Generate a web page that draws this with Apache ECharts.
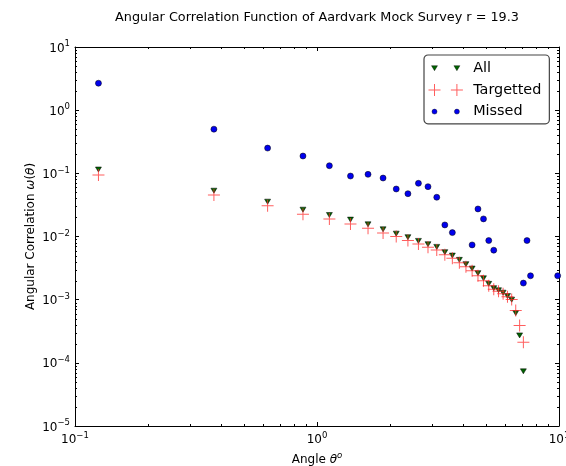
<!DOCTYPE html>
<html><head><meta charset="utf-8">
<script src="https://cdn.jsdelivr.net/npm/echarts@6/dist/echarts.min.js"></script>
<style>html,body{margin:0;padding:0;background:#fff}#c{width:566px;height:466px}</style>
</head><body><div id="c"></div>
<script>
// ---- data ----
const allAngles = [0.125, 0.375, 0.625, 0.875, 1.125, 1.375, 1.625, 1.875, 2.125, 2.375,
  2.625, 2.875, 3.125, 3.375, 3.625, 3.875, 4.125, 4.375, 4.625, 4.875,
  5.125, 5.375, 5.625, 5.875, 6.125, 6.375, 6.625, 6.875, 7.125];
const allValues = [0.115, 0.0531, 0.0356, 0.0266, 0.0219, 0.0185, 0.0156, 0.0130, 0.0111, 0.00975,
  0.00852, 0.00755, 0.00685, 0.00565, 0.00499, 0.00427, 0.00365, 0.00311, 0.00263, 0.00218,
  0.00178, 0.00152, 0.00141, 0.00129, 0.00114, 0.00100, 0.000614, 0.000272, 0.0000734];
const targAngles = [0.125, 0.375, 0.625, 0.875, 1.125, 1.375, 1.625, 1.875, 2.125, 2.375,
  2.625, 2.875, 3.125, 3.375, 3.625, 3.875, 4.125, 4.375, 4.625, 4.875,
  5.125, 5.375, 5.625, 5.875, 6.125, 6.375, 6.625, 6.875, 7.125];
const targValues = [0.094, 0.0454, 0.0308, 0.0225, 0.0190, 0.0158, 0.0135, 0.0114, 0.00996, 0.00861,
  0.00764, 0.00678, 0.00614, 0.00512, 0.00451, 0.00383, 0.00331, 0.00286, 0.00239, 0.00199,
  0.00166, 0.00146, 0.00136, 0.00124, 0.00111, 0.00101, 0.000675, 0.000391, 0.000211];
const missedAngles = [0.125, 0.375, 0.625, 0.875, 1.125, 1.375, 1.625, 1.875, 2.125, 2.375,
  2.625, 2.875, 3.125, 3.375, 3.625, 4.375, 4.625, 4.875, 5.125, 5.375,
  7.125, 7.375, 7.625, 9.875];
const missedValues = [2.67, 0.50, 0.251, 0.188, 0.132, 0.0906, 0.0964, 0.0843, 0.0565, 0.0476,
  0.0695, 0.0615, 0.0418, 0.01525, 0.01153, 0.00736, 0.0273, 0.019, 0.00863, 0.00607,
  0.00183, 0.00863, 0.00239, 0.00239];
const xMinorTicks = [0.2, 0.3, 0.4, 0.5, 0.6, 0.7, 0.8, 0.9, 2, 3, 4, 5, 6, 7, 8, 9];
const yMinorTicks = [2e-5,3e-5,4e-5,5e-5,6e-5,7e-5,8e-5,9e-5,
  2e-4,3e-4,4e-4,5e-4,6e-4,7e-4,8e-4,9e-4,
  2e-3,3e-3,4e-3,5e-3,6e-3,7e-3,8e-3,9e-3,
  2e-2,3e-2,4e-2,5e-2,6e-2,7e-2,8e-2,9e-2,
  0.2,0.3,0.4,0.5,0.6,0.7,0.8,0.9, 2,3,4,5,6,7,8,9];
const titleText = 'Angular Correlation Function of Aardvark Mock Survey r = 19.3';

// ---- helpers ----
const FONT = 'DejaVu Sans';
const zip = (a, b) => a.map((v, i) => [v, b[i]]);
function expLabel(v) {
  const e = Math.round(Math.log10(v));
  return '{b|10}{e|' + (e < 0 ? '\u2212' : '') + Math.abs(e) + '}';
}
const labelRich = {
  b: { fontSize: 12, fontFamily: FONT, color: '#000', verticalAlign: 'bottom', lineHeight: 14 },
  e: { fontSize: 8.5, fontFamily: FONT, color: '#000', verticalAlign: 'bottom', padding: [0, 0, 6, 0] }
};
const plusPath = 'path://M5.5,0H6.5V5.5H12V6.5H6.5V12H5.5V6.5H0V5.5H5.5Z';
function plusAt(cx, cy) {
  return 'M' + (cx - 0.5) + ',' + (cy - 6) + 'H' + (cx + 0.5) + 'V' + (cy - 0.5) + 'H' + (cx + 6) +
    'V' + (cy + 0.5) + 'H' + (cx + 0.5) + 'V' + (cy + 6) + 'H' + (cx - 0.5) + 'V' + (cy + 0.5) +
    'H' + (cx - 6) + 'V' + (cy - 0.5) + 'H' + (cx - 0.5) + 'Z';
}
// tiny corner specks fix the icon's bounding box to 42 x 14
const box = 'M0,0L0.01,0L0,0.01ZM42,14L41.99,14L42,13.99Z';
const legendTri = 'path://' + box + 'M5.3,4.5L11.3,4.5L8.3,9.5ZM27.7,4.5L33.7,4.5L30.7,9.5Z';
const legendPlus = 'path://' + box + plusAt(8.3, 7) + plusAt(30.7, 7);
const legendDot = 'path://' + box + 'M10.8,7A2.5,2.5 0 1,1 5.8,7A2.5,2.5 0 1,1 10.8,7ZM33.2,7A2.5,2.5 0 1,1 28.2,7A2.5,2.5 0 1,1 33.2,7Z';

function tickSeries(values, isX, len) {
  return {
    type: 'custom', silent: true, clip: false, z: 5,
    data: values.map(v => isX ? [v, 1] : [1, v]),
    renderItem: function (params, api) {
      const cs = params.coordSys;
      const p = api.coord([api.value(0), api.value(1)]);
      const st = { stroke: '#000', lineWidth: 1 };
      if (isX) {
        const x = Math.round(p[0]) + 0.5;
        return { type: 'group', children: [
          { type: 'line', shape: { x1: x, y1: cs.y + cs.height, x2: x, y2: cs.y + cs.height - len }, style: st },
          { type: 'line', shape: { x1: x, y1: cs.y, x2: x, y2: cs.y + len }, style: st }
        ] };
      } else {
        const y = Math.round(p[1]) + 0.5;
        return { type: 'group', children: [
          { type: 'line', shape: { x1: cs.x, y1: y, x2: cs.x + len, y2: y }, style: st },
          { type: 'line', shape: { x1: cs.x + cs.width, y1: y, x2: cs.x + cs.width - len, y2: y }, style: st }
        ] };
      }
    }
  };
}

const axisLineStyle = { show: true, lineStyle: { color: '#000', width: 1 } };
const majorTick = { show: true, inside: true, length: 4, lineStyle: { color: '#000', width: 1 } };

const chart = echarts.init(document.getElementById('c'), null, { renderer: 'canvas' });
chart.setOption({
  animation: false,
  backgroundColor: '#fff',
  textStyle: { fontFamily: FONT },
  title: {
    text: titleText, left: 317, top: 11, padding: 0, textAlign: 'center',
    textStyle: { fontSize: 12.8, fontWeight: 'normal', color: '#000', fontFamily: FONT }
  },
  grid: { left: 75, right: 7, top: 47, bottom: 40, containLabel: false, outerBoundsMode: 'none' },
  legend: {
    data: [
      { name: 'All', icon: legendTri, itemStyle: { color: '#006400', borderColor: '#000', borderWidth: 0.4 } },
      { name: 'Targetted', icon: legendPlus, itemStyle: { color: 'rgba(255,40,40,0.75)', borderWidth: 0 } },
      { name: 'Missed', icon: legendDot, itemStyle: { color: '#0000ee', borderColor: '#000', borderWidth: 0.4 } }
    ],
    orient: 'vertical', left: 424, top: 55,
    itemWidth: 42, itemHeight: 14, itemGap: 7.5,
    padding: [6, 8, 5, 2],
    backgroundColor: '#fff', borderColor: '#444', borderWidth: 1.2, borderRadius: 4,
    textStyle: { fontSize: 14.4, color: '#000', fontFamily: FONT, lineHeight: 14 },
    selectedMode: false
  },
  xAxis: [{
    type: 'log', logBase: 10, min: 0.1, max: 10, position: 'bottom',
    axisLine: axisLineStyle, axisTick: majorTick, splitLine: { show: false },
    axisLabel: { formatter: expLabel, rich: labelRich, margin: 5, showMinLabel: true, showMaxLabel: true, hideOverlap: false },
    name: '{n|Angle }{i|\u03b8}{s|o}', nameLocation: 'middle', nameGap: 24,
    nameTextStyle: { rich: {
      n: { fontSize: 12, fontFamily: FONT, color: '#000', verticalAlign: 'bottom', lineHeight: 14 },
      i: { fontSize: 12, fontFamily: FONT, fontStyle: 'italic', color: '#000', verticalAlign: 'bottom', lineHeight: 14 },
      s: { fontSize: 8.5, fontFamily: FONT, fontStyle: 'italic', color: '#000', verticalAlign: 'bottom', padding: [0, 0, 6, 0] }
    } }
  }, {
    type: 'log', logBase: 10, min: 0.1, max: 10, position: 'top',
    axisLine: axisLineStyle, axisTick: majorTick, axisLabel: { show: false }, splitLine: { show: false }
  }],
  yAxis: [{
    type: 'log', logBase: 10, min: 1e-5, max: 10, position: 'left',
    axisLine: axisLineStyle, axisTick: majorTick, splitLine: { show: false },
    axisLabel: { formatter: expLabel, rich: labelRich, margin: 5, showMinLabel: true, showMaxLabel: true },
    name: '{n|Angular Correlation }{i|\u03c9}{n|(}{i|\u03b8}{n|)}', nameLocation: 'middle', nameGap: 38,
    nameMoveOverlap: false,
    nameTextStyle: { rich: {
      n: { fontSize: 12, fontFamily: FONT, color: '#000' },
      i: { fontSize: 12, fontFamily: FONT, fontStyle: 'italic', color: '#000' }
    } }
  }, {
    type: 'log', logBase: 10, min: 1e-5, max: 10, position: 'right',
    axisLine: axisLineStyle, axisTick: majorTick, axisLabel: { show: false }, splitLine: { show: false }
  }],
  series: [
    {
      name: 'All', type: 'scatter', data: zip(allAngles, allValues),
      symbol: 'triangle', symbolRotate: 180, symbolSize: [6, 5],
      itemStyle: { color: '#006400', borderColor: '#000', borderWidth: 0.5, opacity: 1 }, z: 2
    },
    {
      name: 'Targetted', type: 'scatter', data: zip(targAngles, targValues),
      symbol: plusPath, symbolSize: 12,
      itemStyle: { color: 'rgba(255,40,40,0.75)', borderWidth: 0, opacity: 1 }, z: 3
    },
    {
      name: 'Missed', type: 'scatter', data: zip(missedAngles, missedValues),
      symbol: 'circle', symbolSize: 6,
      itemStyle: { color: '#0000ee', borderColor: '#000', borderWidth: 0.5, opacity: 1 }, z: 4
    },
    tickSeries(xMinorTicks, true, 2),
    tickSeries(yMinorTicks, false, 2)
  ]
});
</script>
</body></html>
